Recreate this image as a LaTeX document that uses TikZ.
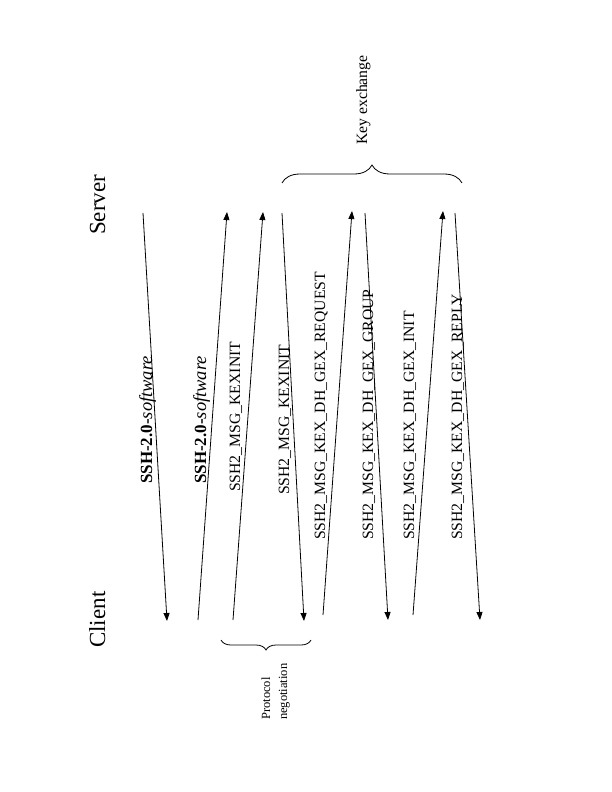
\documentclass[tikz,border=0pt]{standalone}
\usepackage{fontspec}
\setmainfont{Liberation Serif}
\usetikzlibrary{arrows.meta,decorations.pathreplacing}

\tikzset{
  msg/.style={line width=0.8pt, -{Triangle[length=8pt,width=6pt]}},
  msglabel/.style={rotate=90, anchor=base west, inner sep=0pt, font=\fontsize{15.7}{18}\selectfont},
  party/.style={rotate=90, anchor=base west, inner sep=0pt, font=\fontsize{23}{26}\selectfont},
  bracebox/.style={decorate, decoration={brace, amplitude=#1}, line width=0.8pt},
}
\newcommand{\sshversion}{{\fontsize{17}{20}\selectfont\textbf{SSH-2.0-}}{\fontsize{18.5}{21}\selectfont\textit{software}}}

\begin{document}
\begin{tikzpicture}[x=1pt,y=-1pt]
    \useasboundingbox (0,0) rectangle (612,792);

    % Parties
    \node[party] (server) at (105,235) {Server};
    \node[party] (client) at (105,648) {Client};

    % Ends of the messages: server side (top), client side (bottom)
    \foreach \i/\sx/\sy/\cx/\cy in {1/143/213/167/621, 2/227/212/198/620, 3/263/212/233/620,
        4/282/213/304/621, 5/352/211/323/615, 6/365/213/388/620, 7/443/211/413/615, 8/455/213/480/620}
        { \coordinate (s\i) at (\sx,\sy); \coordinate (c\i) at (\cx,\cy); }

    % Messages
    \draw[msg] (s1) -- (c1);
    \draw[msg] (c2) -- (s2);
    \draw[msg] (c3) -- (s3);
    \draw[msg] (s4) -- (c4);
    \draw[msg] (c5) -- (s5);
    \draw[msg] (s6) -- (c6);
    \draw[msg] (c7) -- (s7);
    \draw[msg] (s8) -- (c8);

    \node[msglabel] (m1) at (152,484) {\sshversion};
    \node[msglabel] (m2) at (206,484) {\sshversion};
    \node[msglabel] (m3) at (240,492) {SSH2\_MSG\_KEXINIT};
    \node[msglabel] (m4) at (289,495) {SSH2\_MSG\_KEXINIT};
    \node[msglabel] (m5) at (325,540) {SSH2\_MSG\_KEX\_DH\_GEX\_REQUEST};
    \node[msglabel] (m6) at (373,540) {SSH2\_MSG\_KEX\_DH\_GEX\_GROUP};
    \node[msglabel] (m7) at (414,540) {SSH2\_MSG\_KEX\_DH\_GEX\_INIT};
    \node[msglabel] (m8) at (462,540) {SSH2\_MSG\_KEX\_DH\_GEX\_REPLY};

    % Phases
    \draw[bracebox=10] (311,640) -- (221,640);
    \node[rotate=90, anchor=south west, align=left, inner sep=0pt,
        font=\fontsize{12.5}{17}\selectfont] (protneg) at (290,720) {Protocol\\negotiation};
    \draw[bracebox=18] (282,183) -- (462,183);
    \node[msglabel] (keyex) at (367,145) {Key exchange};
\end{tikzpicture}
\end{document}
